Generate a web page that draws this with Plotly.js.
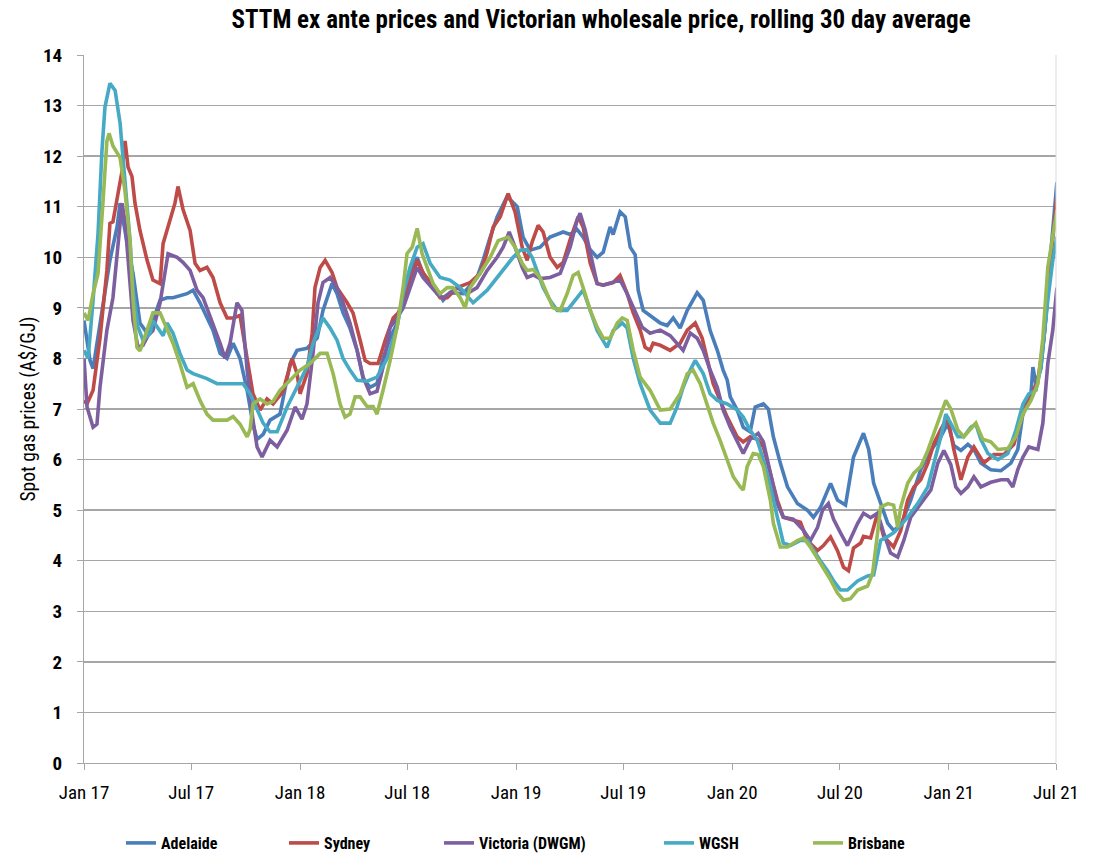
<!DOCTYPE html>
<html>
<head>
<meta charset="utf-8">
<script src="https://cdn.plot.ly/plotly-3.0.1.min.js"></script>
<style>html,body{margin:0;padding:0;background:#fff;}#chart{width:1101px;height:853px;}</style>
</head>
<body>
<div id="chart"></div>
<script>
// Dates are decimal years; values in A$/GJ
const adelaideX = [2017.000,2017.028,2017.042,2017.088,2017.120,2017.153,2017.167,2017.199,2017.227,2017.259,2017.292,2017.319,2017.352,2017.384,2017.412,2017.477,2017.505,2017.537,2017.569,2017.597,2017.630,2017.662,2017.690,2017.722,2017.755,2017.782,2017.801,2017.829,2017.861,2017.907,2017.954,2017.986,2018.032,2018.079,2018.106,2018.148,2018.171,2018.199,2018.231,2018.264,2018.292,2018.324,2018.356,2018.384,2018.417,2018.449,2018.477,2018.509,2018.542,2018.569,2018.634,2018.662,2018.694,2018.755,2018.819,2018.847,2018.880,2018.912,2018.958,2019.005,2019.032,2019.065,2019.111,2019.157,2019.218,2019.250,2019.282,2019.310,2019.343,2019.375,2019.403,2019.435,2019.449,2019.481,2019.505,2019.528,2019.551,2019.565,2019.588,2019.620,2019.667,2019.699,2019.727,2019.759,2019.792,2019.838,2019.866,2019.898,2019.931,2019.958,2019.977,2019.991,2020.023,2020.051,2020.083,2020.106,2020.144,2020.167,2020.190,2020.222,2020.255,2020.301,2020.347,2020.375,2020.407,2020.454,2020.486,2020.523,2020.560,2020.606,2020.630,2020.653,2020.685,2020.718,2020.745,2020.778,2020.824,2020.870,2020.917,2020.963,2020.995,2021.023,2021.056,2021.088,2021.116,2021.148,2021.194,2021.241,2021.287,2021.319,2021.347,2021.380,2021.389,2021.403,2021.426,2021.449,2021.472,2021.500];
const adelaideY = [8.75,7.96,7.8,9.0,9.94,10.6,11.07,10.3,9.68,8.7,8.5,8.75,9.15,9.2,9.2,9.28,9.35,9.1,8.8,8.56,8.1,8.0,8.3,8.0,7.37,6.7,6.4,6.5,6.78,6.9,7.9,8.16,8.2,8.4,8.95,9.48,9.28,8.9,8.6,8.16,7.6,7.43,7.5,8.0,8.4,8.7,9.2,9.68,10.0,9.68,9.35,9.15,9.3,9.28,9.6,9.94,10.4,10.8,11.2,11.0,10.4,10.14,10.2,10.4,10.5,10.45,10.55,10.4,10.15,10.0,10.1,10.6,10.45,10.9,10.8,10.2,10.05,9.35,8.95,8.85,8.7,8.65,8.8,8.6,8.95,9.3,9.15,8.55,8.16,7.77,7.57,7.24,6.98,6.64,6.55,7.04,7.1,7.0,6.45,5.93,5.46,5.13,5.0,4.86,5.05,5.53,5.2,5.1,6.05,6.52,6.2,5.53,5.13,4.74,4.6,4.7,5.2,5.8,6.18,6.45,6.72,6.28,6.18,6.3,6.2,5.93,5.8,5.78,5.93,6.2,7.04,7.3,7.83,7.5,7.8,8.8,10.1,11.48];

const sydneyX = [2017.000,2017.014,2017.042,2017.074,2017.106,2017.120,2017.134,2017.157,2017.176,2017.190,2017.204,2017.222,2017.236,2017.259,2017.292,2017.319,2017.352,2017.366,2017.398,2017.421,2017.435,2017.458,2017.491,2017.514,2017.537,2017.569,2017.597,2017.630,2017.662,2017.690,2017.722,2017.755,2017.782,2017.815,2017.847,2017.875,2017.894,2017.921,2017.963,2017.986,2018.000,2018.032,2018.056,2018.069,2018.093,2018.116,2018.148,2018.171,2018.218,2018.245,2018.278,2018.301,2018.324,2018.361,2018.394,2018.431,2018.454,2018.477,2018.509,2018.542,2018.569,2018.602,2018.648,2018.681,2018.727,2018.787,2018.833,2018.866,2018.894,2018.926,2018.963,2018.995,2019.028,2019.051,2019.074,2019.102,2019.125,2019.157,2019.190,2019.218,2019.250,2019.287,2019.310,2019.343,2019.375,2019.403,2019.449,2019.481,2019.514,2019.542,2019.574,2019.597,2019.620,2019.634,2019.667,2019.713,2019.759,2019.792,2019.829,2019.861,2019.884,2019.912,2019.944,2019.977,2020.023,2020.051,2020.083,2020.116,2020.144,2020.176,2020.208,2020.236,2020.282,2020.315,2020.347,2020.394,2020.421,2020.454,2020.486,2020.514,2020.537,2020.560,2020.593,2020.606,2020.639,2020.671,2020.699,2020.745,2020.778,2020.810,2020.838,2020.870,2020.903,2020.931,2020.963,2020.995,2021.023,2021.056,2021.088,2021.116,2021.162,2021.208,2021.255,2021.301,2021.333,2021.380,2021.412,2021.440,2021.463,2021.500];
const sydneyY = [7.17,7.1,7.37,8.4,9.74,10.67,10.7,11.2,11.7,12.3,11.78,11.6,11.07,10.53,9.94,9.55,9.48,10.27,10.73,11.07,11.4,10.95,10.53,9.88,9.74,9.8,9.6,9.1,8.8,8.8,8.85,8.0,7.3,6.98,7.2,7.1,7.2,7.35,8.0,7.7,7.3,7.7,8.5,9.4,9.8,9.94,9.7,9.4,9.1,8.9,8.36,7.96,7.9,7.9,8.36,8.8,8.9,9.1,9.5,9.94,9.7,9.5,9.2,9.2,9.4,9.5,9.68,10.1,10.6,10.8,11.26,10.9,10.2,9.94,10.3,10.63,10.5,10.0,9.8,9.9,10.35,10.8,10.6,9.88,9.48,9.45,9.5,9.64,9.28,8.9,8.56,8.22,8.16,8.3,8.26,8.16,8.3,8.56,8.7,8.4,8.0,7.5,7.17,6.84,6.45,6.35,6.45,6.4,6.25,5.73,5.2,4.86,4.8,4.76,4.4,4.2,4.3,4.47,4.2,3.87,3.8,4.25,4.35,4.48,4.45,4.94,4.48,4.27,4.6,5.2,5.45,5.6,5.93,6.32,6.6,6.84,6.2,5.6,6.05,6.25,5.93,6.1,6.1,6.3,6.8,7.24,7.57,8.4,9.6,11.2];

const victoriaX = [2017.000,2017.014,2017.042,2017.060,2017.074,2017.106,2017.134,2017.157,2017.176,2017.190,2017.213,2017.227,2017.250,2017.273,2017.296,2017.319,2017.352,2017.375,2017.389,2017.431,2017.458,2017.491,2017.523,2017.551,2017.574,2017.597,2017.630,2017.653,2017.676,2017.708,2017.731,2017.755,2017.782,2017.801,2017.824,2017.861,2017.894,2017.940,2017.977,2018.009,2018.032,2018.060,2018.083,2018.106,2018.139,2018.171,2018.199,2018.231,2018.264,2018.292,2018.324,2018.356,2018.384,2018.417,2018.449,2018.477,2018.509,2018.542,2018.569,2018.634,2018.662,2018.727,2018.773,2018.819,2018.866,2018.912,2018.940,2018.968,2018.995,2019.028,2019.051,2019.079,2019.111,2019.157,2019.204,2019.250,2019.282,2019.296,2019.319,2019.352,2019.375,2019.403,2019.449,2019.481,2019.514,2019.542,2019.583,2019.620,2019.667,2019.713,2019.773,2019.806,2019.838,2019.866,2019.898,2019.931,2019.958,2019.991,2020.023,2020.051,2020.083,2020.120,2020.144,2020.176,2020.208,2020.236,2020.282,2020.329,2020.361,2020.394,2020.417,2020.444,2020.468,2020.500,2020.532,2020.579,2020.606,2020.639,2020.671,2020.699,2020.731,2020.764,2020.792,2020.824,2020.870,2020.917,2020.949,2020.977,2021.009,2021.032,2021.056,2021.088,2021.116,2021.148,2021.194,2021.241,2021.273,2021.296,2021.319,2021.343,2021.370,2021.412,2021.435,2021.458,2021.481,2021.500];
const victoriaY = [8.0,7.04,6.64,6.7,7.43,8.56,9.2,10.27,11.07,10.7,9.4,8.75,8.22,8.26,8.45,8.55,9.1,9.74,10.07,10.0,9.9,9.74,9.35,9.2,8.95,8.7,8.3,8.0,8.3,9.1,8.95,7.77,6.78,6.25,6.05,6.38,6.25,6.58,7.04,6.8,7.1,8.1,9.1,9.5,9.6,9.4,9.1,8.7,8.16,7.63,7.3,7.35,7.83,8.62,8.8,9.0,9.4,9.8,9.6,9.28,9.2,9.4,9.28,9.4,9.74,10.0,10.2,10.5,10.2,9.8,9.6,9.65,9.58,9.6,9.68,10.2,10.73,10.87,10.55,9.88,9.48,9.45,9.5,9.55,9.28,9.0,8.62,8.5,8.56,8.45,8.16,8.5,8.4,8.16,7.77,7.43,6.98,6.64,6.38,6.12,6.4,6.52,6.35,5.73,5.13,4.86,4.82,4.6,4.4,4.66,5.0,5.13,4.82,4.55,4.3,4.74,4.94,4.85,4.94,4.55,4.15,4.07,4.4,4.86,5.13,5.4,5.93,6.18,5.9,5.46,5.33,5.46,5.66,5.46,5.55,5.6,5.6,5.46,5.8,6.05,6.25,6.2,6.72,7.9,8.56,9.4];

const wgshX = [2017.000,2017.019,2017.042,2017.065,2017.083,2017.097,2017.120,2017.144,2017.167,2017.190,2017.213,2017.227,2017.250,2017.273,2017.306,2017.319,2017.352,2017.366,2017.384,2017.412,2017.444,2017.477,2017.505,2017.569,2017.616,2017.690,2017.736,2017.769,2017.801,2017.829,2017.861,2017.894,2017.940,2017.986,2018.032,2018.060,2018.106,2018.139,2018.171,2018.199,2018.231,2018.264,2018.310,2018.356,2018.403,2018.449,2018.477,2018.509,2018.542,2018.569,2018.602,2018.648,2018.694,2018.741,2018.787,2018.801,2018.866,2018.926,2018.986,2019.019,2019.051,2019.074,2019.097,2019.125,2019.157,2019.190,2019.236,2019.282,2019.310,2019.343,2019.375,2019.421,2019.449,2019.491,2019.514,2019.542,2019.574,2019.620,2019.667,2019.713,2019.745,2019.773,2019.806,2019.829,2019.866,2019.898,2019.931,2019.977,2020.023,2020.051,2020.083,2020.116,2020.144,2020.176,2020.208,2020.236,2020.269,2020.315,2020.347,2020.375,2020.407,2020.440,2020.468,2020.500,2020.532,2020.579,2020.625,2020.653,2020.685,2020.718,2020.745,2020.778,2020.810,2020.856,2020.903,2020.931,2020.963,2020.986,2021.009,2021.042,2021.069,2021.102,2021.125,2021.148,2021.181,2021.227,2021.273,2021.310,2021.343,2021.370,2021.403,2021.426,2021.458,2021.481,2021.500];
const wgshY = [8.16,8.0,9.15,10.47,12.1,12.97,13.44,13.3,12.65,11.5,10.33,9.35,8.62,8.36,8.5,8.75,8.56,8.45,8.7,8.5,8.1,7.77,7.7,7.6,7.5,7.5,7.5,7.3,6.98,6.72,6.55,6.55,7.04,7.43,7.83,8.3,8.8,8.6,8.36,8.0,7.77,7.57,7.55,7.63,8.0,8.62,9.28,9.8,10.2,10.27,9.88,9.6,9.55,9.4,9.15,9.1,9.35,9.68,10.0,10.14,10.15,10.0,9.74,9.4,9.15,8.95,8.95,9.2,9.35,8.95,8.55,8.22,8.55,8.7,8.6,8.0,7.5,6.98,6.72,6.72,7.04,7.43,7.77,7.96,7.7,7.3,7.17,7.1,6.98,6.84,6.58,6.38,5.99,5.46,4.86,4.35,4.3,4.4,4.4,4.2,4.0,3.8,3.6,3.42,3.42,3.6,3.7,3.72,4.4,4.48,4.55,4.7,4.86,5.13,5.46,5.93,6.45,6.9,6.72,6.45,6.45,6.64,6.7,6.4,6.12,6.0,6.12,6.58,7.1,7.3,7.37,7.83,9.15,9.94,10.4];

const brisbaneX = [2017.000,2017.019,2017.042,2017.065,2017.088,2017.106,2017.116,2017.134,2017.167,2017.190,2017.213,2017.227,2017.245,2017.259,2017.292,2017.319,2017.352,2017.384,2017.412,2017.444,2017.477,2017.505,2017.537,2017.569,2017.597,2017.662,2017.690,2017.722,2017.755,2017.769,2017.782,2017.815,2017.847,2017.875,2017.907,2017.954,2018.000,2018.046,2018.093,2018.125,2018.153,2018.185,2018.208,2018.231,2018.255,2018.278,2018.310,2018.338,2018.356,2018.384,2018.417,2018.449,2018.477,2018.495,2018.519,2018.542,2018.565,2018.588,2018.616,2018.648,2018.681,2018.708,2018.741,2018.764,2018.787,2018.833,2018.880,2018.917,2018.963,2018.995,2019.028,2019.051,2019.079,2019.111,2019.144,2019.171,2019.204,2019.236,2019.264,2019.287,2019.310,2019.343,2019.375,2019.403,2019.435,2019.468,2019.491,2019.514,2019.542,2019.574,2019.620,2019.667,2019.713,2019.759,2019.792,2019.819,2019.852,2019.884,2019.912,2019.944,2019.977,2020.005,2020.037,2020.051,2020.069,2020.097,2020.120,2020.144,2020.176,2020.190,2020.222,2020.255,2020.301,2020.329,2020.361,2020.407,2020.454,2020.486,2020.514,2020.546,2020.579,2020.625,2020.648,2020.671,2020.685,2020.718,2020.745,2020.764,2020.778,2020.810,2020.838,2020.870,2020.903,2020.931,2020.963,2020.986,2021.009,2021.042,2021.069,2021.102,2021.125,2021.157,2021.194,2021.227,2021.273,2021.310,2021.343,2021.380,2021.412,2021.435,2021.458,2021.500];
const brisbaneY = [8.9,8.75,9.28,9.68,11.1,12.3,12.45,12.2,11.97,11.3,10.33,9.15,8.22,8.15,8.56,8.9,8.9,8.6,8.3,7.9,7.43,7.5,7.17,6.9,6.78,6.78,6.85,6.7,6.45,6.6,7.1,7.2,7.1,7.15,7.37,7.57,7.77,7.9,8.1,8.1,7.7,7.1,6.84,6.9,7.24,7.24,7.05,7.05,6.9,7.37,7.96,8.62,9.4,10.07,10.2,10.57,10.07,9.8,9.48,9.28,9.4,9.4,9.2,9.0,9.4,9.68,10.0,10.33,10.4,10.2,9.88,9.74,9.76,9.6,9.28,9.0,8.95,9.28,9.64,9.7,9.4,8.95,8.62,8.4,8.4,8.7,8.8,8.75,8.16,7.63,7.37,6.98,7.0,7.3,7.7,7.77,7.5,7.1,6.72,6.38,6.0,5.66,5.46,5.4,5.86,6.12,6.1,5.86,5.2,4.74,4.27,4.27,4.4,4.45,4.27,3.95,3.62,3.36,3.22,3.25,3.42,3.5,3.75,4.55,5.06,5.13,5.1,4.66,5.06,5.53,5.73,5.86,6.18,6.52,6.9,7.17,7.0,6.58,6.45,6.6,6.72,6.4,6.35,6.2,6.22,6.45,6.9,7.17,7.5,8.4,9.8,10.93];

const seriesNames = ['Adelaide','Sydney','Victoria (DWGM)','WGSH','Brisbane'];
const seriesColors = ['#4a7ebb','#be4b48','#7d5fa0','#46aac5','#98b954'];
const chartTitle = 'STTM ex ante prices and Victorian wholesale price, rolling 30 day average';
const yTitle = 'Spot gas prices (A$/GJ)';

function decToDate(d){
  const y = Math.floor(d);
  const s = Date.UTC(y,0,1), e = Date.UTC(y+1,0,1);
  return new Date(s + (d - y) * (e - s)).toISOString().slice(0,19);
}

const xs = [adelaideX, sydneyX, victoriaX, wgshX, brisbaneX];
const ys = [adelaideY, sydneyY, victoriaY, wgshY, brisbaneY];
const legendIds = ['legend','legend2','legend3','legend4','legend5'];
const FONT = 'Liberation Sans Narrow, Arial Narrow, Roboto Condensed, Liberation Sans, sans-serif';

const traces = seriesNames.map((n,i)=>({
  type:'scatter', mode:'lines', name:n,
  x: xs[i].map(decToDate), y: ys[i],
  line:{color:seriesColors[i], width:3.6},
  legend: legendIds[i]
}));

const legendLeft = [121, 284, 439, 659, 808];
const layout = {
  width:1101, height:853,
  margin:{l:84, r:45, t:55, b:90, autoexpand:false},
  paper_bgcolor:'#fff', plot_bgcolor:'#fff',
  font:{family:FONT, color:'#000'},
  title:{text:'<b>'+chartTitle+'</b>', font:{size:25, family:FONT, color:'#000'}, x:0.546, xref:'container', xanchor:'center', y:0.977, yanchor:'middle'},
  xaxis:{type:'date', range:['2017-01-01','2021-07-01'], tick0:'2017-01-01', dtick:'M6', tickformat:'%b %y',
    showgrid:false, zeroline:false, showline:true, linecolor:'#a6a6a6', linewidth:1,
    ticks:'outside', ticklen:6, tickcolor:'#a6a6a6', tickfont:{size:19, color:'#000'}, ticklabelstandoff:6},
  yaxis:{range:[0,14], dtick:1, showgrid:true, gridcolor:'#a6a6a6', gridwidth:1.4, zeroline:false,
    showline:true, linecolor:'#a6a6a6', linewidth:1, ticks:'outside', ticklen:6, tickcolor:'#a6a6a6',
    tickfont:{size:19, color:'#000', weight:'bold'}, ticklabelstandoff:11,
    title:{text:yTitle, font:{size:19.5, color:'#000'}, standoff:2}},
  shapes:[{type:'line', xref:'paper', yref:'paper', x0:1, x1:1, y0:0, y1:1, line:{color:'#d9d9d9', width:1}}],
  showlegend:true
};
legendIds.forEach((id,i)=>{
  layout[id] = {orientation:'h', x:(legendLeft[i]-84)/972, xanchor:'left', y:-0.113, yanchor:'middle',
    font:{size:16, color:'#000', weight:'bold'}, bgcolor:'rgba(0,0,0,0)', borderwidth:0, itemwidth:30};
});

Plotly.newPlot('chart', traces, layout, {displayModeBar:false, staticPlot:true});
</script>
</body>
</html>
